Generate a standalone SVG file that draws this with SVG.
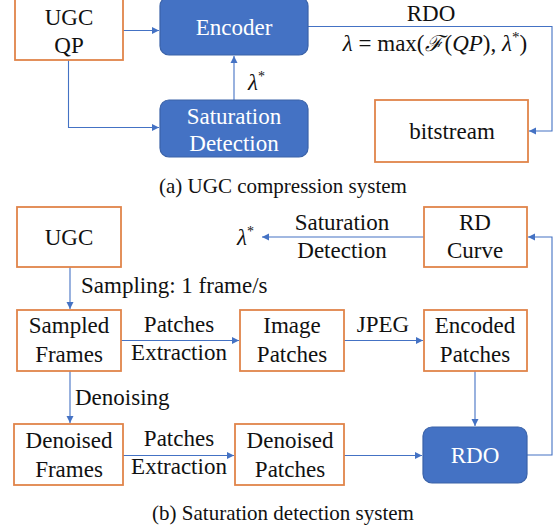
<svg xmlns="http://www.w3.org/2000/svg" width="556" height="529" viewBox="0 0 556 529">
<defs>
<marker id="arr" markerWidth="8" markerHeight="8" refX="7" refY="4" orient="auto" markerUnits="userSpaceOnUse">
<path d="M0,0.5 L7,4 L0,7.5 Z" fill="#4472C4"/>
</marker>
</defs>
<style>
.ob{fill:#fff;stroke:#E0844A;stroke-width:1.8}
.bb{fill:#4472C4;stroke:#3A62A8;stroke-width:1.2}
text{font-family:'Liberation Serif','Times New Roman',serif}
.t{font-size:23px;fill:#111;text-anchor:middle}
.w{fill:#fff}
.c{font-size:21px;fill:#111;text-anchor:middle}
.l{font-size:23px;fill:#111}
.m{font-size:23px;fill:#111}
.e{fill:none;stroke:#4472C4;stroke-width:1.1}
</style>
<rect width="556" height="529" fill="#fff"/>

<g id="connectors">
<path class="e" d="M123,30.5 H159" marker-end="url(#arr)"/>
<path class="e" d="M68.5,60 V127.5 H159" marker-end="url(#arr)"/>
<path class="e" d="M234,100 V56" marker-end="url(#arr)"/>
<path class="e" d="M308,26.5 H552 V131 H529" marker-end="url(#arr)"/>
<path class="e" d="M424,237 H262" marker-end="url(#arr)"/>
<path class="e" d="M527,455 H552 V237 H528" marker-end="url(#arr)"/>
<path class="e" d="M70,267 V309" marker-end="url(#arr)"/>
<path class="e" d="M121,340.5 H239" marker-end="url(#arr)"/>
<path class="e" d="M344,340.5 H423" marker-end="url(#arr)"/>
<path class="e" d="M70,371 V423" marker-end="url(#arr)"/>
<path class="e" d="M123,455.5 H234" marker-end="url(#arr)"/>
<path class="e" d="M344,455.5 H422" marker-end="url(#arr)"/>
<path class="e" d="M475,371 V426" marker-end="url(#arr)"/>
</g>

<g id="labels">
<text class="m" x="248" y="90" font-style="italic">λ<tspan font-size="14" dy="-9" font-style="normal">*</tspan></text>
<text class="t" x="431" y="21">RDO</text>
<text class="m" x="435" y="51" font-size="24" text-anchor="middle"><tspan font-style="italic">λ</tspan> = max(<tspan font-style="italic" font-size="22">ℱ</tspan><tspan dx="2">(</tspan><tspan font-style="italic">QP</tspan>), <tspan font-style="italic">λ</tspan><tspan font-size="15" dy="-9">*</tspan><tspan dy="9">)</tspan></text>
<text class="c" x="283" y="193">(a) UGC compression system</text>
<text class="m" x="237" y="245" font-style="italic">λ<tspan font-size="14" dy="-9" font-style="normal">*</tspan></text>
<text class="t" x="342" y="230">Saturation</text>
<text class="t" x="342" y="258">Detection</text>
<text class="l" x="81" y="293">Sampling: 1 frame/s</text>
<text class="t" x="179" y="332">Patches</text>
<text class="t" x="179" y="360">Extraction</text>
<text class="t" x="383" y="332">JPEG</text>
<text class="l" x="75" y="405">Denoising</text>
<text class="t" x="179" y="446">Patches</text>
<text class="t" x="179" y="474">Extraction</text>
<text class="c" x="283" y="520">(b) Saturation detection system</text>
</g>

<g id="ugc-qp">
<rect class="ob" x="15" y="-3" width="108" height="63"/>
<text class="t" x="69" y="25">UGC</text>
<text class="t" x="69" y="53">QP</text>
</g>
<g id="encoder">
<rect class="bb" x="160" y="-3" width="148" height="58" rx="9"/>
<text class="t w" x="234" y="35">Encoder</text>
</g>
<g id="saturation-detection">
<rect class="bb" x="160" y="100" width="148" height="57" rx="9"/>
<text class="t w" x="234" y="124">Saturation</text>
<text class="t w" x="234" y="151">Detection</text>
</g>
<g id="bitstream">
<rect class="ob" x="375" y="100" width="153" height="62"/>
<text class="t" x="452" y="139">bitstream</text>
</g>

<g id="ugc">
<rect class="ob" x="17" y="207" width="104" height="60"/>
<text class="t" x="69" y="245">UGC</text>
</g>
<g id="rd-curve">
<rect class="ob" x="424" y="207" width="103" height="60"/>
<text class="t" x="475" y="230">RD</text>
<text class="t" x="475" y="258">Curve</text>
</g>
<g id="sampled-frames">
<rect class="ob" x="17" y="310" width="104" height="61"/>
<text class="t" x="69" y="333">Sampled</text>
<text class="t" x="69" y="362">Frames</text>
</g>
<g id="image-patches">
<rect class="ob" x="240" y="310" width="104" height="61"/>
<text class="t" x="292" y="333">Image</text>
<text class="t" x="292" y="362">Patches</text>
</g>
<g id="encoded-patches">
<rect class="ob" x="424" y="310" width="103" height="61"/>
<text class="t" x="475" y="333">Encoded</text>
<text class="t" x="475" y="362">Patches</text>
</g>
<g id="denoised-frames">
<rect class="ob" x="14" y="424" width="109" height="61"/>
<text class="t" x="69" y="448">Denoised</text>
<text class="t" x="69" y="477">Frames</text>
</g>
<g id="denoised-patches">
<rect class="ob" x="235" y="424" width="109" height="61"/>
<text class="t" x="290" y="448">Denoised</text>
<text class="t" x="290" y="477">Patches</text>
</g>
<g id="rdo">
<rect class="bb" x="423" y="427" width="104" height="56" rx="9"/>
<text class="t w" x="475" y="463">RDO</text>
</g>
</svg>
